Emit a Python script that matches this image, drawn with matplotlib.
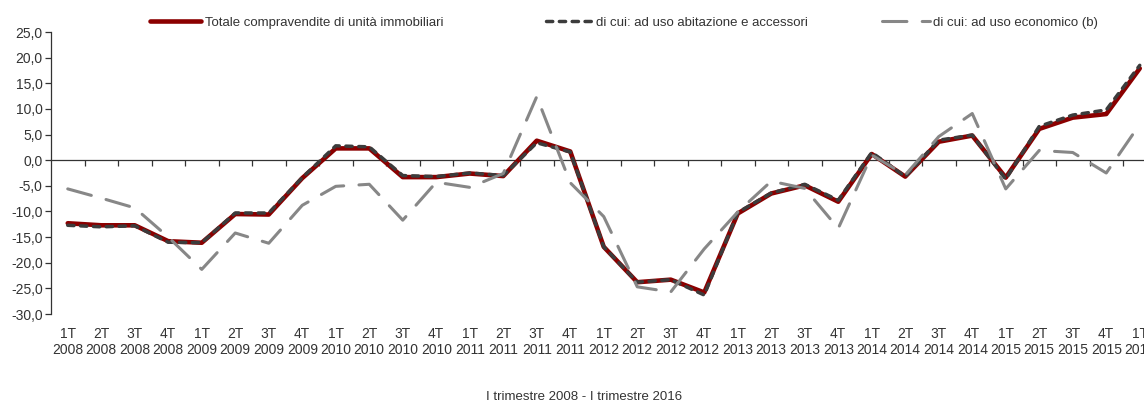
import matplotlib
matplotlib.use("Agg")
import matplotlib.pyplot as plt
import matplotlib.transforms as mtransforms
import numpy as np

plt.rcParams['font.family'] = ['Liberation Sans', 'DejaVu Sans']

# quarters 1T 2008 - 1T 2016
quarters = ["1T", "2T", "3T", "4T"] * 8 + ["1T"]
years = [str(y) for y in range(2008, 2016) for _ in range(4)] + ["2016"]

totale = [-12.3, -12.7, -12.7, -15.8, -16.1, -10.5, -10.6, -3.5, 2.3, 2.3,
          -3.3, -3.3, -2.6, -3.1, 3.8, 1.7, -16.9, -23.8, -23.3, -25.8,
          -10.4, -6.5, -4.9, -8.1, 1.2, -3.2, 3.6, 4.8, -3.4, 6.1,
          8.3, 9.0, 17.9]
abitazione = [-12.7, -13.0, -12.8, -16.0, -16.1, -10.3, -10.3, -3.4, 2.8, 2.6,
              -3.0, -3.2, -2.5, -3.0, 3.4, 1.6, -16.9, -23.8, -23.3, -26.3,
              -10.2, -6.4, -4.7, -7.8, 1.5, -3.2, 3.9, 4.9, -3.7, 6.6,
              8.8, 9.8, 18.5]
economico = [-5.6, -7.4, -9.3, -15.0, -21.3, -14.2, -16.2, -8.8, -5.1, -4.7,
             -11.7, -4.3, -5.3, -2.6, 12.4, -4.4, -11.0, -24.7, -25.7, -17.3,
             -10.1, -4.1, -5.5, -13.3, 1.0, -2.9, 4.6, 9.1, -5.6, 1.9,
             1.5, -2.5, 7.0]

labels = ["Totale compravendite di unità immobiliari",
          "di cui: ad uso abitazione e accessori",
          "di cui: ad uso economico (b)"]

W, H = 1144, 405
fig = plt.figure(figsize=(W / 100, H / 100), dpi=100)
ax = fig.add_axes([51 / W, 1 - 314 / H, 1105.5 / W, 282 / H])

x = np.arange(len(totale))
l1, = ax.plot(x, totale, color='#8b0000', lw=3.3, solid_capstyle='round', zorder=3)
l2, = ax.plot(x, abitazione, color='#3c3c3c', lw=2.5, linestyle=(0, (1.8, 1.9)),
              dash_capstyle='round', zorder=4)
l3, = ax.plot(x, economico, color='#878787', lw=2.2, linestyle=(0, (8, 5)),
              dash_capstyle='round', zorder=5)

ax.set_xlim(-0.5, len(totale) - 0.5)
ax.set_ylim(-30, 25)
ax.set_yticks(np.arange(-30, 26, 5))
ax.set_yticklabels([f"{v:.1f}".replace('.', ',') for v in np.arange(-30, 26, 5)])

ax.spines['top'].set_visible(False)
ax.spines['right'].set_visible(False)
ax.spines['bottom'].set_position(('data', 0))
ax.spines['left'].set_color('#333333')
ax.spines['bottom'].set_color('#333333')
ax.spines['left'].set_linewidth(0.9)
ax.spines['bottom'].set_linewidth(0.9)

ax.set_xticks(x[:-1] + 0.5)
ax.set_xticklabels([])
ax.tick_params(axis='x', direction='out', length=4, width=0.9, color='#333333')
ax.tick_params(axis='y', direction='out', length=4, width=0.9, color='#333333',
               labelsize=10, labelcolor='#333333', pad=2)

trans = mtransforms.blended_transform_factory(ax.transData, ax.transAxes)
for i, (q, y) in enumerate(zip(quarters, years)):
    ax.text(i, -0.045, f"{q}\n{y}", transform=trans, ha='center', va='top',
            fontsize=10, color='#333333', linespacing=1.25, clip_on=False)

# one legend per entry, placed like the reference
for h, lab, x0, hl in zip([l1, l2, l3], labels, [150, 546, 882], [3.9, 3.5, 3.6]):
    leg = fig.legend([h], [lab], loc='center left',
                     bbox_to_anchor=(x0 / W, 1 - 23 / H), frameon=False,
                     fontsize=9.5, handlelength=hl, handletextpad=0.3,
                     borderpad=0, borderaxespad=0)
    for t in leg.get_texts():
        t.set_color('#333333')

fig.text(584 / W, 1 - 397 / H, "I trimestre 2008 - I trimestre 2016",
         ha='center', va='center', fontsize=9.5, color='#333333')

fig.savefig("out.png", dpi=100)
